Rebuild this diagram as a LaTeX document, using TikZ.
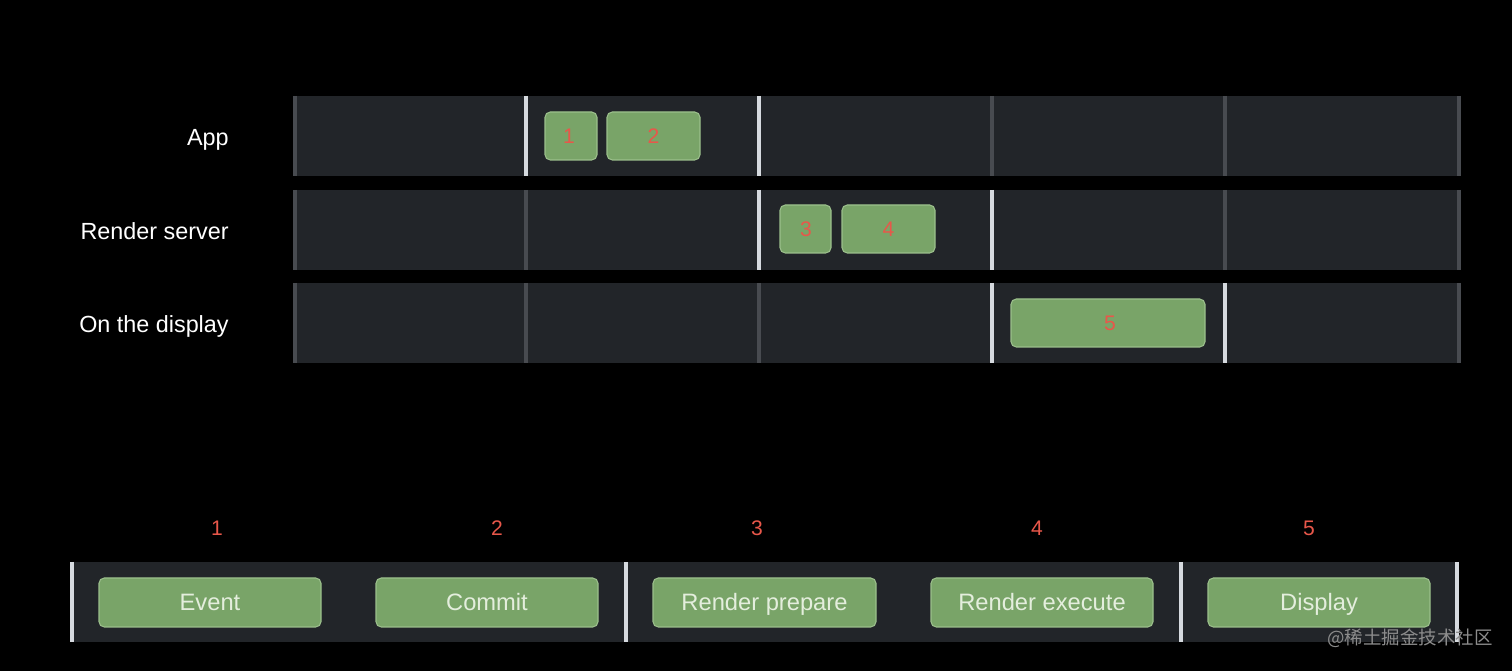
\documentclass[tikz,border=0pt]{standalone}
\usepackage{fontspec}
\setmainfont{Liberation Sans}
\newfontfamily\cjkfont{Noto Sans CJK SC}
\usetikzlibrary{calc}
\definecolor{rowbg}{HTML}{222529}
\definecolor{divdark}{HTML}{484B50}
\definecolor{divlight}{HTML}{D6DADF}
\definecolor{gfill}{HTML}{79A468}
\definecolor{gedge}{HTML}{9CC08C}
\definecolor{numred}{HTML}{E8574A}
\definecolor{btntext}{HTML}{E4EEDD}
\definecolor{wmark}{HTML}{8C8C8C}
\tikzset{
  rowbar/.style={fill=rowbg},
  divd/.style={draw=divdark, line width=2.4pt},
  divl/.style={draw=divlight, line width=2.4pt},
  gbox/.style={fill=gfill, draw=gedge, line width=0.6pt, rounded corners=3pt},
  bnum/.style={text=numred, font=\fontsize{12}{14}\selectfont, inner sep=0pt, anchor=base},
  lbl/.style={text=white, font=\fontsize{13.3}{15}\selectfont, anchor=base east, inner sep=0pt},
  btxt/.style={text=btntext, font=\fontsize{13.5}{16}\selectfont, inner sep=0pt, anchor=base},
  topnum/.style={text=numred, font=\fontsize{12}{14}\selectfont, inner sep=0pt},
}
\begin{document}
\begin{tikzpicture}[x=0.02cm, y=-0.02cm]
\fill[black] (0,0) rectangle (1512,671);
\useasboundingbox (0,0) rectangle (1512,671);
% rows
\foreach \y in {96,190,283} {
  \fill[rowbar] (293,\y) rectangle (1461,\y+80);
}
% row 1 dividers
\draw[divd] (295,96) -- (295,176);
\draw[divl] (526,96) -- (526,176);
\draw[divl] (759,96) -- (759,176);
\draw[divd] (992,96) -- (992,176);
\draw[divd] (1225,96) -- (1225,176);
\draw[divd] (1459,96) -- (1459,176);
% row 2 dividers
\draw[divd] (295,190) -- (295,270);
\draw[divd] (526,190) -- (526,270);
\draw[divl] (759,190) -- (759,270);
\draw[divl] (992,190) -- (992,270);
\draw[divd] (1225,190) -- (1225,270);
\draw[divd] (1459,190) -- (1459,270);
% row 3 dividers
\draw[divd] (295,283) -- (295,363);
\draw[divd] (526,283) -- (526,363);
\draw[divd] (759,283) -- (759,363);
\draw[divl] (992,283) -- (992,363);
\draw[divl] (1225,283) -- (1225,363);
\draw[divd] (1459,283) -- (1459,363);
% row labels
\node[lbl] (lapp) at (229,145.5) {App};
\node[lbl] (lrs) at (229,239.5) {Render server};
\node[lbl] (ldisp) at (229,332.5) {On the display};
% timeline boxes
\draw[gbox] (545,112) rectangle (597,160);
\node[bnum] (b1) at (569,144) {1};
\draw[gbox] (607,112) rectangle (700,160);
\node[bnum] (b2) at (653.5,144) {2};
\draw[gbox] (780,205) rectangle (831,253);
\node[bnum] (b3) at (806,237) {3};
\draw[gbox] (842,205) rectangle (935,253);
\node[bnum] (b4) at (888.5,237) {4};
\draw[gbox] (1011,299) rectangle (1205,347);
\node[bnum] (b5) at (1110,331) {5};
% bottom legend bar
\fill[rowbar] (70,562) rectangle (1459,642);
\draw[divl] (72,562) -- (72,642);
\draw[divl] (626,562) -- (626,642);
\draw[divl] (1181,562) -- (1181,642);
\draw[divl] (1457,562) -- (1457,642);
% legend buttons
\draw[gbox] (99,578) rectangle (321,627);
\node[btxt] (e1) at (210,611) {Event};
\draw[gbox] (376,578) rectangle (598,627);
\node[btxt] (e2) at (487,611) {Commit};
\draw[gbox] (653,578) rectangle (876,627);
\node[btxt] (e3) at (764.5,611) {Render prepare};
\draw[gbox] (931,578) rectangle (1153,627);
\node[btxt] (e4) at (1042,611) {Render execute};
\draw[gbox] (1208,578) rectangle (1430,627);
\node[btxt] (e5) at (1319,611) {Display};
% numbers above
\node[topnum] (n1) at (217,528) {1};
\node[topnum] (n2) at (497,528) {2};
\node[topnum] (n3) at (757,528) {3};
\node[topnum] (n4) at (1037,528) {4};
\node[topnum] (n5) at (1309,528) {5};
% watermark
\node[text=wmark, font=\cjkfont\fontsize{10.5}{12}\selectfont, inner sep=0pt] (wm) at (1410,638) {@稀土掘金技术社区};
\end{tikzpicture}
\end{document}
